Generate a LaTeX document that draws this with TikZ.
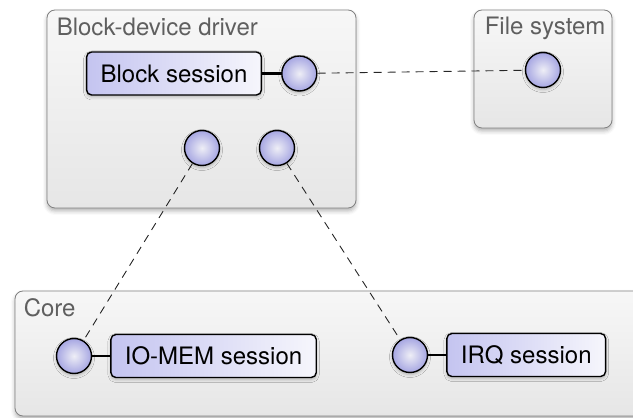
\documentclass[tikz,border=0pt]{standalone}
\usepackage{fontspec}
\setmainfont{TeX Gyre Heros}
\usepackage{xcolor}
\usepackage{tikz}
\usetikzlibrary{positioning,shadows,shadows.blur}

\definecolor{boxtop}{RGB}{247,247,247}
\definecolor{boxbottom}{RGB}{230,230,230}
\definecolor{boxline}{RGB}{128,128,128}
\definecolor{titlegray}{RGB}{95,95,95}
\definecolor{sessleft}{RGB}{196,196,240}
\definecolor{sessright}{RGB}{246,246,252}
\definecolor{portinner}{RGB}{238,238,246}
\definecolor{portouter}{RGB}{166,166,226}

\begin{document}
\begin{tikzpicture}[x=1pt, y=1pt, node distance=18pt, auto,
    container/.style={rectangle, draw=boxline, line width=0.8pt, rounded corners=8pt,
        top color=boxtop, bottom color=boxbottom,
        blur shadow={shadow xshift=0pt, shadow yshift=-3pt, shadow blur radius=4pt, shadow opacity=30}},
    title/.style={font=\fontsize{24}{28}\selectfont, text=titlegray, inner sep=0pt, anchor=base west},
    session/.style={rectangle, draw=black, line width=1.4pt, rounded corners=5pt,
        left color=sessleft, right color=sessright, minimum height=43pt, inner xsep=14pt,
        font=\fontsize{24}{28}\selectfont,
        blur shadow={shadow xshift=0pt, shadow yshift=-2pt, shadow blur radius=3pt, shadow opacity=25}},
    port/.style={circle, draw=black, line width=1.4pt, inner color=portinner, outer color=portouter,
        minimum size=35pt, inner sep=0pt,
        blur shadow={shadow xshift=0pt, shadow yshift=-2pt, shadow blur radius=3pt, shadow opacity=25}},
    link/.style={line width=2.4pt},
    conn/.style={dashed, dash pattern=on 8pt off 6pt, line width=0.9pt, draw=black!85}]
    \useasboundingbox (0,0) rectangle (633,418);

    \node (driver) [container, minimum width=309pt, minimum height=198pt] at (201.5,309) {};
    \node (filesys) [container, minimum width=138pt, minimum height=118pt] at (543,349) {};
    \node (core) [container, minimum width=645pt, minimum height=125pt] at (337.5,64.5) {};

    \node (drivertitle) [title] at ([shift={(10pt,-26pt)}]driver.north west) {Block-device driver};
    \node (filesystitle) [title] at ([shift={(11pt,-25pt)}]filesys.north west) {File system};
    \node (coretitle) [title] at ([shift={(9pt,-26pt)}]core.north west) {Core};

    \node (block) [session] at (174,344.5) {Block session};
    \node (blockport) [port, right=19pt of block] {};
    \node (fsport) [port] at (543,348) {};
    \node (memport) [port] at (202,270) {};
    \node (irqport) [port] at (277,270) {};

    \node (iomemport) [port] at (74,62) {};
    \node (iomem) [session, right=of iomemport] {IO-MEM session};
    \node (irqcport) [port] at (410,63) {};
    \node (irq) [session, right=of irqcport] {IRQ session};

    \draw [link] (block) -- (blockport);
    \draw [link] (iomemport) -- (iomem);
    \draw [link] (irqcport) -- (irq);

    \draw [conn] (blockport) -- (fsport);
    \draw [conn] (memport) -- (iomemport);
    \draw [conn] (irqport) -- (irqcport);
\end{tikzpicture}
\end{document}
